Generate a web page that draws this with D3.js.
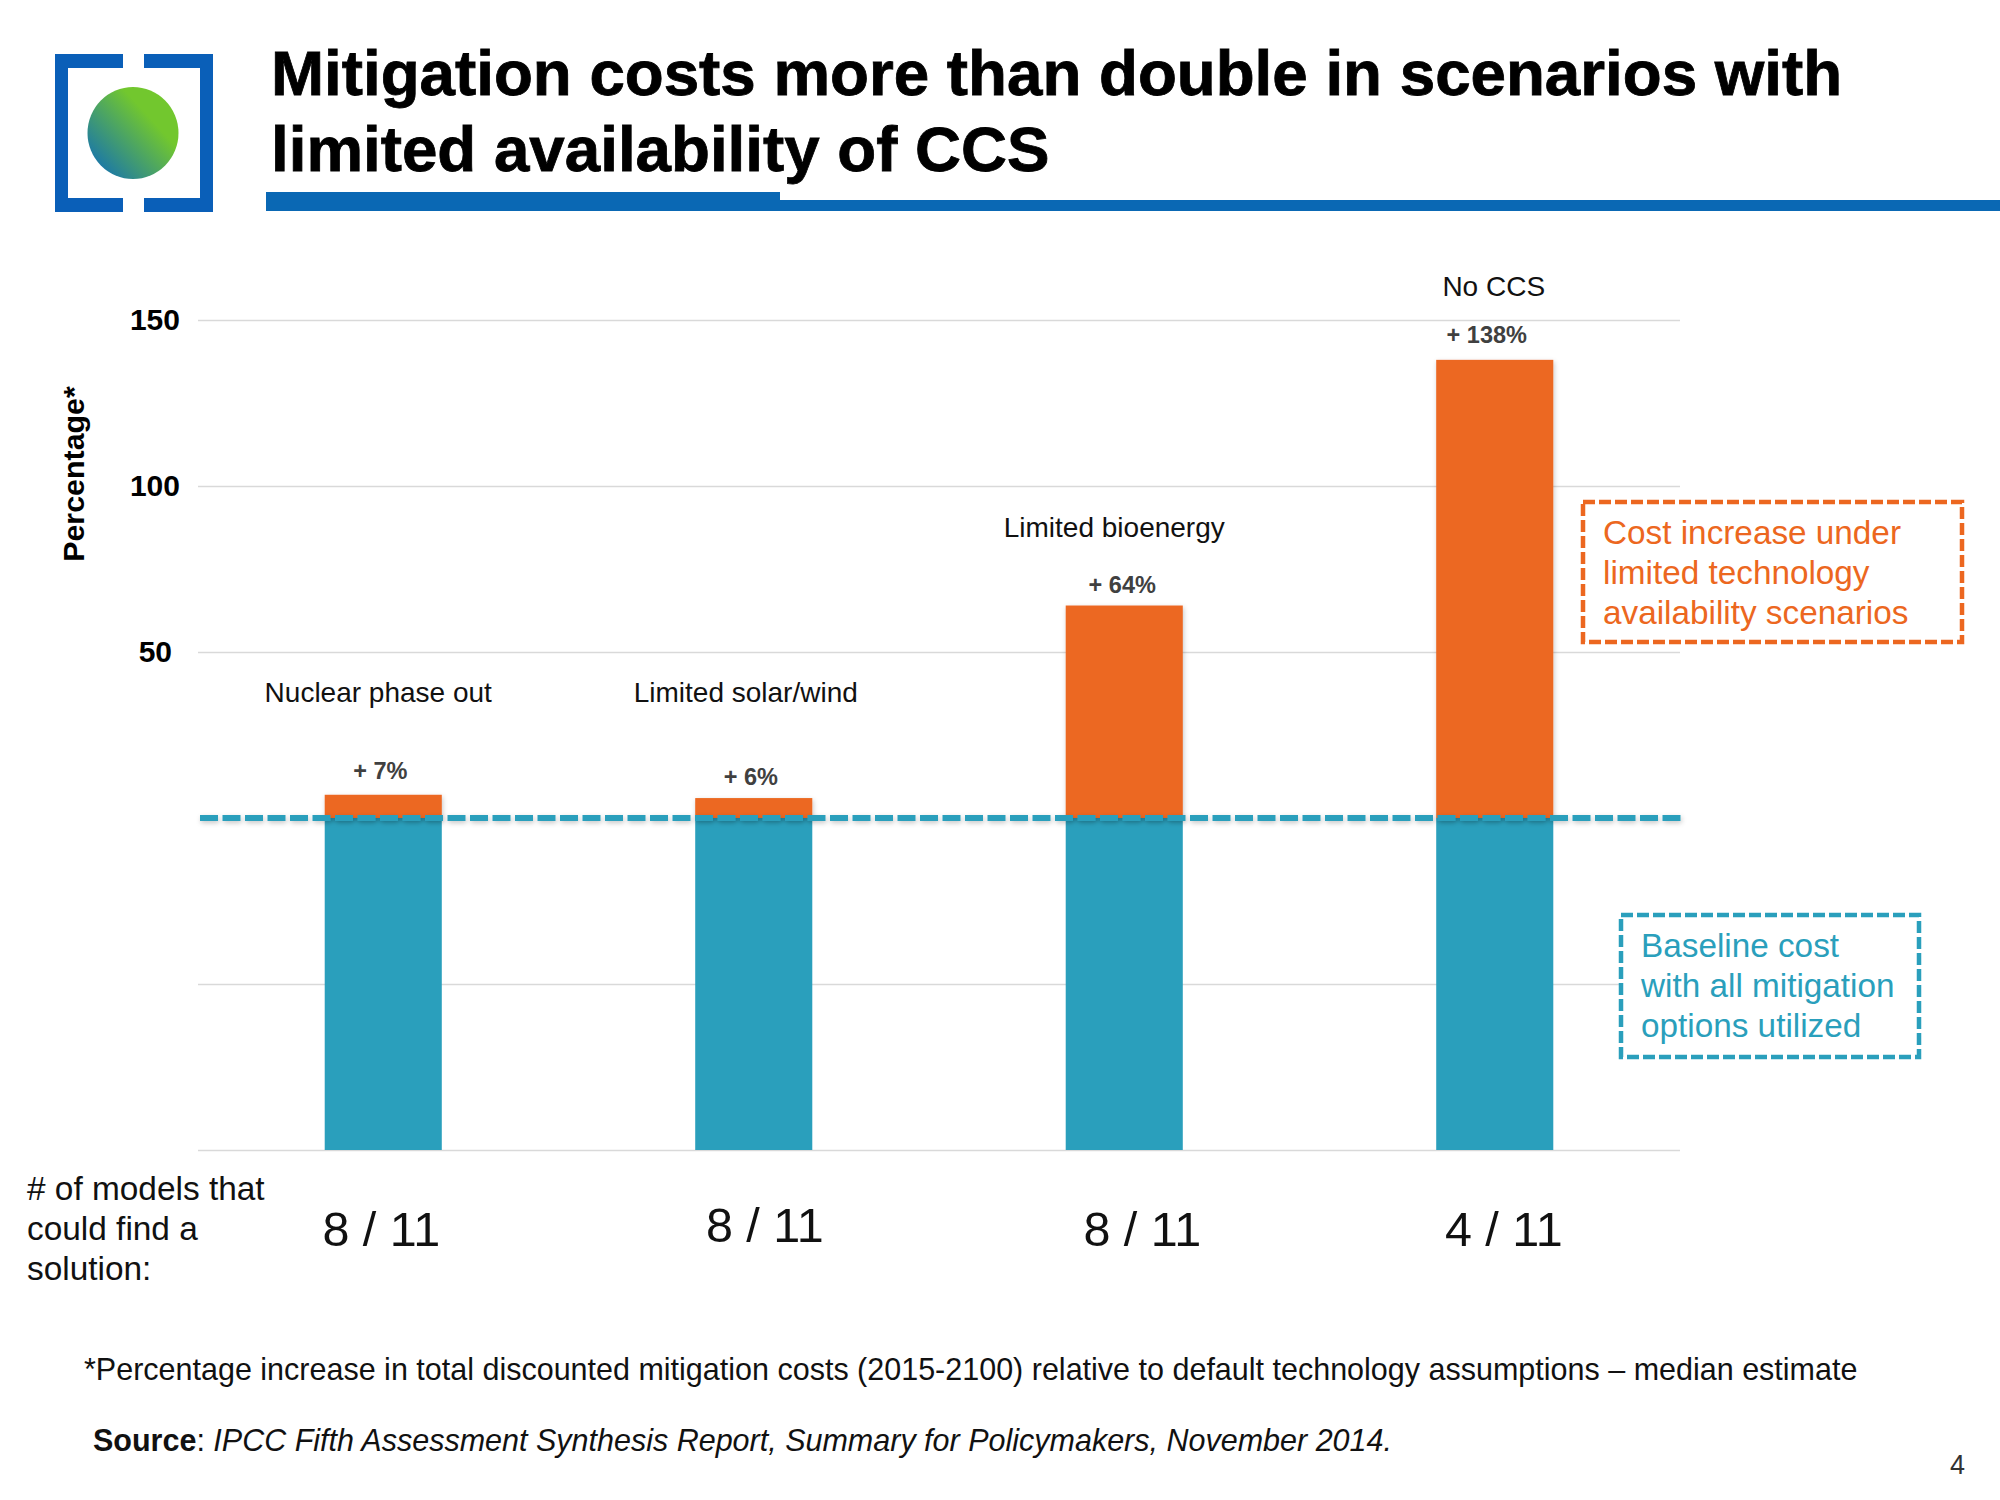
<!DOCTYPE html>
<html>
<head>
<meta charset="utf-8">
<script src="https://cdn.jsdelivr.net/npm/d3@7"></script>
<style>
  html, body { margin: 0; background: #fff; }
  text { font-family: "Liberation Sans", Arial, sans-serif; }
</style>
</head>
<body>
<div id="chart"></div>
<script>
const scenarios = ['Nuclear phase out', 'Limited solar/wind', 'Limited bioenergy', 'No CCS'];
const increases = [7, 6, 64, 138];
const increaseLabels = ['+ 7%', '+ 6%', '+ 64%', '+ 138%'];
const baselineCost = [-100, -100, -100, -100];
const modelCounts = ['8 / 11', '8 / 11', '8 / 11', '4 / 11'];
const yTicks = [-100, -50, 50, 100, 150];

const titleLines = ['Mitigation costs more than double in scenarios with', 'limited availability of CCS'];
const modelsNote = ['# of models that', 'could find a', 'solution:'];
const costBoxLines = ['Cost increase under', 'limited technology', 'availability scenarios'];
const baseBoxLines = ['Baseline cost', 'with all mitigation', 'options utilized'];

const ORANGE = '#ec6720';
const TEAL = '#2a9fbc';
const BLUE = '#0a68b4';

const margin = {left: 198, right: 320, top: 320, bottom: 350};
const W = 2000, H = 1500;

const svg = d3.select('#chart').append('svg')
  .attr('width', W)
  .attr('height', H)
  .style('display', 'block');

const defs = svg.append('defs');

const grad = defs.append('linearGradient')
  .attr('id', 'globe')
  .attr('x1', '0.05').attr('y1', '0.95')
  .attr('x2', '0.7').attr('y2', '0.35');
grad.append('stop').attr('offset', '0').attr('stop-color', '#0f6db8');
grad.append('stop').attr('offset', '1').attr('stop-color', '#72c72e');

// soft shadow for the bars and the dashed line, in page units so a flat line still gets it
const shadow = defs.append('filter')
  .attr('id', 'shadow')
  .attr('filterUnits', 'userSpaceOnUse')
  .attr('x', 0).attr('y', 0)
  .attr('width', W).attr('height', H);
shadow.append('feDropShadow')
  .attr('dx', 1).attr('dy', 2)
  .attr('stdDeviation', 2.5)
  .attr('flood-color', '#000')
  .attr('flood-opacity', 0.22);

// logo: two brackets around a shaded globe
const logo = svg.append('g').attr('fill', '#0a5fb8');
const bracket = d3.path();
[[55, 123, 68], [213, 144, 200]].forEach(([outer, gapEdge, inner]) => {
  bracket.moveTo(gapEdge, 54);
  bracket.lineTo(outer, 54);
  bracket.lineTo(outer, 212);
  bracket.lineTo(gapEdge, 212);
  bracket.lineTo(gapEdge, 198);
  bracket.lineTo(inner, 198);
  bracket.lineTo(inner, 68);
  bracket.lineTo(gapEdge, 68);
  bracket.closePath();
});
logo.append('path').attr('d', bracket.toString());
logo.append('ellipse')
  .attr('cx', 133).attr('cy', 133)
  .attr('rx', 45.5).attr('ry', 46)
  .attr('fill', 'url(#globe)');

// title and the rule under it
svg.append('g').selectAll('text')
  .data(titleLines)
  .join('text')
  .attr('x', 271)
  .attr('y', (d, i) => 95 + i * 76)
  .attr('font-size', 63.7)
  .attr('font-weight', 'bold')
  .attr('fill', '#000')
  .attr('stroke', '#000')
  .attr('stroke-width', 0.8)
  .text(d => d);

svg.append('rect').attr('x', 266).attr('y', 192).attr('width', 514).attr('height', 19).attr('fill', BLUE);
svg.append('rect').attr('x', 780).attr('y', 200).attr('width', 1220).attr('height', 11).attr('fill', BLUE);

// scales
const x = d3.scaleBand()
  .domain(scenarios)
  .range([margin.left, W - margin.right])
  .paddingInner(0.684)
  .paddingOuter(0.342);

const y = d3.scaleLinear()
  .domain([-100, 150])
  .range([H - margin.bottom, margin.top]);

// axis doubles as the grid
const yAxis = svg.append('g')
  .attr('class', 'axis')
  .attr('transform', 'translate(' + margin.left + ',0)')
  .call(d3.axisLeft(y)
    .tickValues(yTicks)
    .tickSize(-(W - margin.left - margin.right))
    .tickPadding(18)
    .tickFormat(d => d > 0 ? d : ''));
yAxis.select('.domain').remove();
yAxis.selectAll('line').attr('stroke', '#d9d9d9').attr('stroke-width', 1.6);
yAxis.selectAll('text')
  .attr('font-size', 30)
  .attr('font-weight', 'bold')
  .attr('fill', '#000')
  .attr('dx', d => d === 50 ? -8 : 0)
  .style('font-family', '"Liberation Sans", Arial, sans-serif');

svg.append('text')
  .attr('transform', 'translate(84,474) rotate(-90)')
  .attr('text-anchor', 'middle')
  .attr('font-size', 30.4)
  .attr('font-weight', 'bold')
  .text('Percentage*');

// bars
const bars = svg.append('g');
bars.selectAll('rect.base')
  .data(baselineCost)
  .join('rect')
  .attr('class', 'base')
  .attr('x', (d, i) => x(scenarios[i]))
  .attr('y', y(0))
  .attr('width', x.bandwidth())
  .attr('height', d => y(d) - y(0))
  .attr('fill', TEAL);

bars.selectAll('rect.increase')
  .data(increases)
  .join('rect')
  .attr('class', 'increase')
  .attr('x', (d, i) => x(scenarios[i]))
  .attr('y', d => y(d))
  .attr('width', x.bandwidth())
  .attr('height', d => y(0) - y(d))
  .attr('fill', ORANGE)
  .attr('filter', 'url(#shadow)');

// dashed baseline at zero
svg.append('line')
  .attr('x1', margin.left + 2)
  .attr('x2', W - margin.right + 4)
  .attr('y1', y(0))
  .attr('y2', y(0))
  .attr('stroke', TEAL)
  .attr('stroke-width', 6)
  .attr('stroke-dasharray', '18 4.5')
  .attr('filter', 'url(#shadow)');

// the labels in the source sit by hand, so they keep small nudges
const valueNudge = [[-3, -16], [-3, -13], [-2, -13], [-8, -17]];
const nameNudge = [[-5, -93], [-8, -96], [-10, -69], [-1, -64]];
const countNudge = [[-2, 1246], [11, 1242], [18, 1246], [9, 1246]];

svg.append('g').selectAll('text')
  .data(increases)
  .join('text')
  .attr('x', (d, i) => x(scenarios[i]) + x.bandwidth() / 2 + valueNudge[i][0])
  .attr('y', (d, i) => y(d) + valueNudge[i][1])
  .attr('text-anchor', 'middle')
  .attr('font-size', 23.5)
  .attr('font-weight', 'bold')
  .attr('fill', '#404040')
  .text((d, i) => increaseLabels[i]);

svg.append('g').selectAll('text')
  .data(increases)
  .join('text')
  .attr('x', (d, i) => x(scenarios[i]) + x.bandwidth() / 2 + nameNudge[i][0])
  .attr('y', (d, i) => y(d) + nameNudge[i][1])
  .attr('text-anchor', 'middle')
  .attr('font-size', 28)
  .attr('fill', '#111')
  .text((d, i) => scenarios[i]);

svg.append('g').selectAll('text')
  .data(modelCounts)
  .join('text')
  .attr('x', (d, i) => x(scenarios[i]) + x.bandwidth() / 2 + countNudge[i][0])
  .attr('y', (d, i) => countNudge[i][1])
  .attr('text-anchor', 'middle')
  .attr('font-size', 48.5)
  .attr('fill', '#111')
  .text(d => d);

const textBlock = (lines, left, top, step, size, color) => {
  svg.append('g').selectAll('text')
    .data(lines)
    .join('text')
    .attr('x', left)
    .attr('y', (d, i) => top + i * step)
    .attr('font-size', size)
    .attr('fill', color)
    .text(d => d);
};

textBlock(modelsNote, 27, 1200, 40.2, 33.4, '#111');

// annotation boxes
const noteBox = (left, top, width, height, color) => {
  svg.append('rect')
    .attr('x', left).attr('y', top)
    .attr('width', width).attr('height', height)
    .attr('fill', '#fff')
    .attr('stroke', color)
    .attr('stroke-width', 4.5)
    .attr('stroke-dasharray', '12 4');
};

noteBox(1583, 502, 379, 140, ORANGE);
textBlock(costBoxLines, 1603, 544, 40, 33.3, ORANGE);

noteBox(1621, 915, 298, 142, TEAL);
textBlock(baseBoxLines, 1641, 957, 40, 33.3, TEAL);

// footer
svg.append('text')
  .attr('x', 84).attr('y', 1380)
  .attr('font-size', 30.5)
  .attr('fill', '#111')
  .text('*Percentage increase in total discounted mitigation costs (2015-2100) relative to default technology assumptions \u2013 median estimate');

const source = svg.append('text')
  .attr('x', 93).attr('y', 1451)
  .attr('font-size', 30.5)
  .attr('fill', '#111');
source.append('tspan').attr('font-weight', 'bold').text('Source');
source.append('tspan').text(': ');
source.append('tspan')
  .attr('font-style', 'italic')
  .text('IPCC Fifth Assessment Synthesis Report, Summary for Policymakers, November 2014.');

svg.append('text')
  .attr('x', 1950).attr('y', 1474)
  .attr('font-size', 27)
  .attr('fill', '#333')
  .text('4');
</script>
</body>
</html>
